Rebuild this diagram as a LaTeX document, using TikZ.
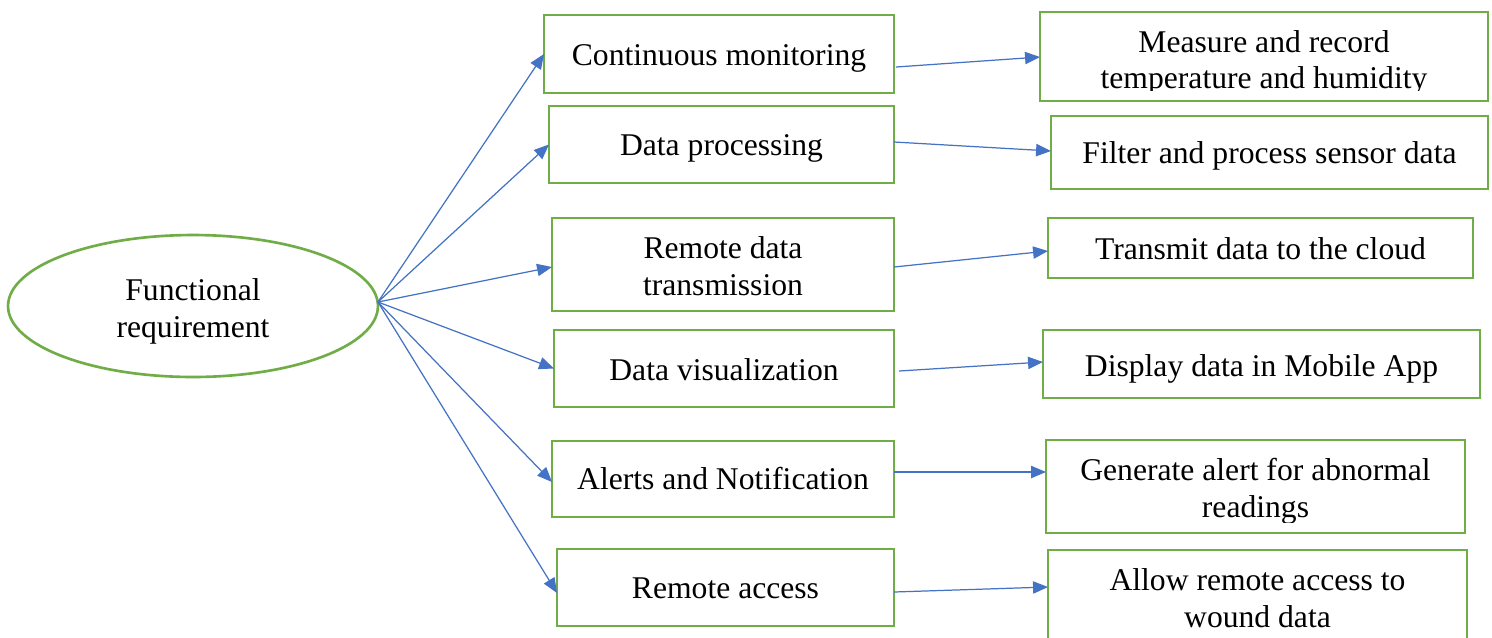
\documentclass[tikz,border=0pt]{standalone}
\usepackage{fontspec}
\setmainfont{Liberation Serif}
\usetikzlibrary{arrows.meta,shapes.geometric}

\definecolor{boxgreen}{HTML}{70AD47}
\definecolor{linkblue}{HTML}{4472C4}

\tikzset{
  gbox/.style={draw=boxgreen, line width=1.5pt, fill=none, inner sep=0pt, outer sep=0pt},
  oval/.style={ellipse, draw=boxgreen, line width=1.5pt, inner sep=0pt, outer sep=0pt},
  lbl/.style={anchor=base, inner sep=0pt, outer sep=0pt, font=\fontsize{18}{21}\selectfont},
  link/.style={draw=linkblue, line width=0.7pt, -{Triangle[length=8.5pt,width=7pt]}},
}

% box from its corners (x1,y1) to (x2,y2), in pixel units
\newcommand\gboxat[5]{%
  \node[gbox, minimum width={(#4-#2)*0.02cm}, minimum height={(#5-#3)*0.02cm}]
    (#1) at ({(#2+#4)/2},{(#3+#5)/2}) {};}

\begin{document}
\begin{tikzpicture}[x=0.02cm, y=-0.02cm]
\clip (0,0) rectangle (1492,637);
\fill[white] (0,0) rectangle (1492,637);

% root
\node[oval, minimum width=7.4cm, minimum height=2.84cm] (fr) at (193,306) {};
\node[lbl] (fr1) at (193,300) {Functional};
\node[lbl] (fr2) at (193,337) {requirement};

% requirements
\gboxat{b1}{544}{15}{894}{93}
\gboxat{b2}{549}{106}{894}{183}
\gboxat{b3}{552}{218}{894}{311}
\gboxat{b4}{554}{330}{894}{407}
\gboxat{b5}{552}{441}{894}{517}
\gboxat{b6}{557}{549}{894}{626}

\node[lbl] (t1) at (b1.center |- 0,65) {Continuous monitoring};
\node[lbl] (t2) at (b2.center |- 0,155) {Data processing};
\node[lbl] (t3a) at (b3.center |- 0,258) {Remote data};
\node[lbl] (t3b) at (b3.center |- 0,295) {transmission};
\node[lbl] (t4) at (b4.center |- 0,380) {Data visualization};
\node[lbl] (t5) at (b5.center |- 0,489) {Alerts and Notification};
\node[lbl] (t6) at (b6.center |- 0,598) {Remote access};

% actions
\gboxat{r1}{1040}{12}{1488}{101}
\gboxat{r2}{1051}{116}{1488}{189}
\gboxat{r3}{1048}{218}{1473}{278}
\gboxat{r4}{1043}{330}{1480}{398}
\gboxat{r5}{1046}{440}{1465}{533}
\gboxat{r6}{1048}{550}{1467}{680}

\begin{scope}
  \clip (r1.north west) rectangle ([yshift=0.22cm]r1.south east);
  \node[lbl] (s1a) at (r1.center |- 0,52) {Measure and record};
  \node[lbl] (s1b) at (r1.center |- 0,88) {temperature and humidity};
\end{scope}
\node[lbl] (s2) at (r2.center |- 0,163) {Filter and process sensor data};
\node[lbl] (s3) at (r3.center |- 0,259) {Transmit data to the cloud};
\node[lbl] (s4) at (r4.center |- 0,376) {Display data in Mobile App};
\begin{scope}
  \clip (r5.north west) rectangle ([yshift=0.22cm]r5.south east);
  \node[lbl] (s5a) at (r5.center |- 0,480) {Generate alert for abnormal};
  \node[lbl] (s5b) at (r5.center |- 0,517) {readings};
\end{scope}
\node[lbl] (s6a) at (r6.center |- 0,590) {Allow remote access to};
\node[lbl] (s6b) at (r6.center |- 0,627) {wound data};

% fan-out from the root
\coordinate (hub) at ([yshift=0.08cm]fr.east);
\draw[link] (hub) -- (b1.west);
\draw[link] (hub) -- (b2.west);
\draw[link] (hub) -- (b3.west |- 0,267);
\draw[link] (hub) -- (b4.west);
\draw[link] (hub) -- (b5.west |- 0,482);
\draw[link] (hub) -- (b6.west |- 0,593);

% requirement to action
\draw[link] ([xshift=0.04cm]b1.east |- 0,67) -- (r1.west |- 0,57);
\draw[link] (b2.east |- 0,142) -- (r2.west |- 0,151);
\draw[link] (b3.east |- 0,267) -- (r3.west |- 0,251);
\draw[link] ([xshift=0.1cm]b4.east |- 0,371) -- (r4.west |- 0,362);
\draw[link] (b5.east |- 0,472) -- (r5.west |- 0,472);
\draw[link] (b6.east |- 0,592) -- (r6.west |- 0,587);
\end{tikzpicture}
\end{document}
